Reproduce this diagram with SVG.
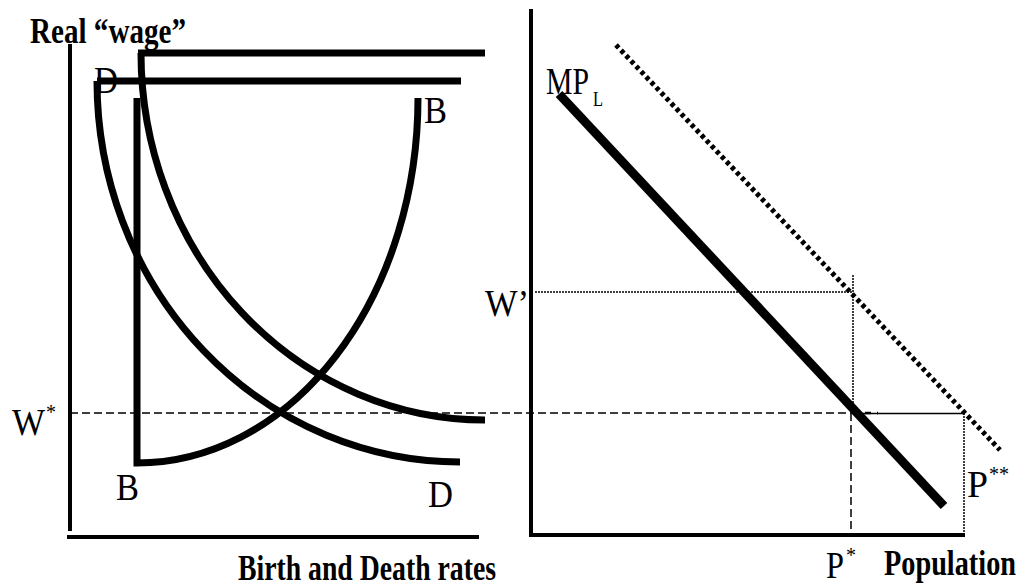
<svg xmlns="http://www.w3.org/2000/svg" width="1021" height="587" viewBox="0 0 1021 587">
<style>
.lbl{font-family:"Liberation Serif","Times New Roman",serif;font-size:37px;fill:#000}
.bold{font-family:"Liberation Serif","Times New Roman",serif;font-size:35px;font-weight:bold;fill:#000}
.sup{font-family:"Liberation Serif","Times New Roman",serif;font-size:20px;fill:#000}
.thick{fill:none;stroke:#000;stroke-width:7}
.axis{fill:none;stroke:#000;stroke-width:4}
.dash{fill:none;stroke:#000;stroke-width:1.5;stroke-dasharray:8 4}
.dot{fill:none;stroke:#000;stroke-width:1.5;stroke-dasharray:2 1}
</style>
<rect width="1021" height="587" fill="#fff"/>
<g id="axes">
<line class="axis" x1="70" y1="44" x2="70" y2="531"/>
<line class="axis" x1="67" y1="537" x2="479" y2="537"/>
<line class="axis" x1="531" y1="9" x2="531" y2="537"/>
<line class="axis" x1="529" y1="535" x2="965" y2="535"/>
</g>
<g id="connectors">
<line class="dash" x1="70" y1="413" x2="853" y2="413"/>
<line x1="853" y1="413.5" x2="965" y2="413.5" stroke="#000" stroke-width="1.5"/>
<line x1="853" y1="413" x2="878" y2="413" stroke="#000" stroke-width="2.5" stroke-dasharray="6 6"/>
<line class="dash" x1="851" y1="413" x2="851" y2="535"/>
<line class="dot" x1="853" y1="275" x2="853" y2="413"/>
<line class="dot" x1="535" y1="292" x2="853" y2="292"/>
<line class="dot" x1="964" y1="413" x2="964" y2="535"/>
</g>
<g id="curve-B">
<path class="thick" d="M137,98 L137,463 A281,365 0 0 0 418,98"/>
</g>
<g id="curve-D">
<path class="thick" d="M97,81 L461,81 M97,81 A363,381 0 0 0 460,462"/>
</g>
<g id="curve-D2">
<path class="thick" d="M138,53 L485,53 M141,53 A344,367 0 0 0 485,420"/>
</g>
<g id="mpl">
<line x1="559" y1="94" x2="944" y2="506" stroke="#000" stroke-width="9"/>
</g>
<g id="mpl-shifted">
<line x1="616" y1="45" x2="1000" y2="450" stroke="#000" stroke-width="5" stroke-dasharray="4 3.3"/>
</g>
<g id="labels">
<text class="bold" x="30" y="43" textLength="156" lengthAdjust="spacingAndGlyphs">Real “wage”</text>
<text class="bold" x="238" y="580" textLength="258" lengthAdjust="spacingAndGlyphs">Birth and Death rates</text>
<text class="bold" x="884" y="575" textLength="132" lengthAdjust="spacingAndGlyphs">Population</text>
<text class="lbl" x="94" y="93" textLength="24" lengthAdjust="spacingAndGlyphs">D</text>
<text class="lbl" x="424" y="123" textLength="23" lengthAdjust="spacingAndGlyphs">B</text>
<text class="lbl" x="116" y="500" textLength="23" lengthAdjust="spacingAndGlyphs">B</text>
<text class="lbl" x="428" y="507" textLength="25" lengthAdjust="spacingAndGlyphs">D</text>
<text class="lbl" x="12" y="435" textLength="33" lengthAdjust="spacingAndGlyphs">W</text><text class="sup" x="46" y="419">*</text>
<text class="lbl" x="485" y="316" textLength="44" lengthAdjust="spacingAndGlyphs">W’</text>
<text class="lbl" x="546" y="94" textLength="43" lengthAdjust="spacingAndGlyphs">MP</text><text class="sup" x="593" y="106" textLength="10" lengthAdjust="spacingAndGlyphs">L</text>
<text class="lbl" x="826" y="578" textLength="18" lengthAdjust="spacingAndGlyphs">P</text><text class="sup" x="846" y="562">*</text>
<text class="lbl" x="967" y="497" textLength="21" lengthAdjust="spacingAndGlyphs">P</text><text class="sup" x="989" y="481">**</text>
</g>
</svg>
